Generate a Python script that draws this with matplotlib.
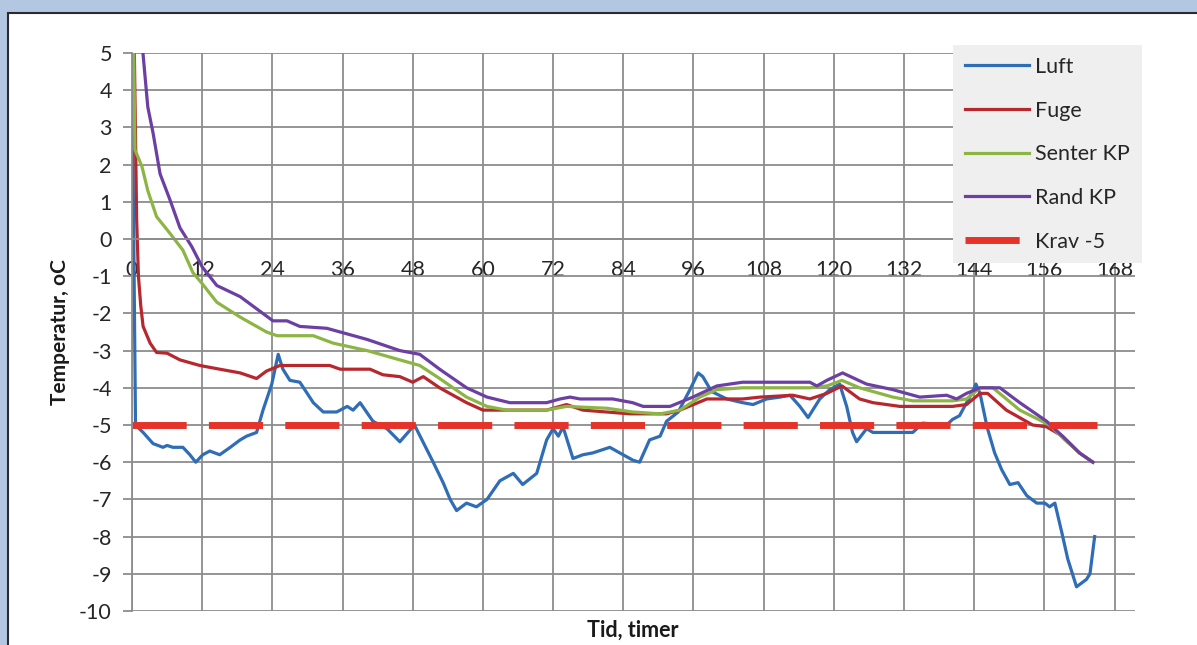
import matplotlib
matplotlib.use("Agg")
import matplotlib.pyplot as plt
from matplotlib.patches import Rectangle

plt.rcParams["font.family"] = ["Lato", "DejaVu Sans"]
plt.rcParams["axes.unicode_minus"] = False

# Luft
luft_t = [0, 0.6, 1.9, 3.6, 5.3, 6.0, 7.0, 8.7, 9.9, 10.9, 12.1, 13.3, 15.0, 16.8, 18.5,
          19.6, 21.3, 22.4, 23.9, 25.0, 25.8, 27.0, 28.7, 31.0, 32.7, 35.0, 36.8, 37.8,
          39.0, 41.2, 43.6, 45.8, 48.3, 51.5, 53.2, 54.4, 55.5, 57.2, 58.9, 60.7, 62.9,
          65.2, 66.8, 69.2, 70.9, 72.0, 72.9, 73.7, 75.4, 77.1, 78.8, 81.7, 83.4, 85.7,
          86.8, 88.5, 90.3, 91.4, 93.4, 95.4, 96.8, 97.6, 99.1, 101.7, 104.4, 106.2,
          108.5, 110.8, 112.5, 114.2, 115.6, 117.6, 119.3, 121.0, 122.2, 123.2, 123.9,
          125.6, 126.7, 130.1, 133.5, 135.2, 139.3, 140.3, 141.5, 142.7, 143.6, 144.3,
          145.0, 146.2, 147.5, 148.7, 150.1, 151.5, 153.0, 154.7, 156.1, 156.9, 157.8,
          159.0, 160.0, 161.5, 163.2, 163.8, 164.6]
luft_v = [5.0, -5.0, -5.2, -5.5, -5.6, -5.55, -5.6, -5.6, -5.8, -6.0, -5.8, -5.7, -5.8,
          -5.6, -5.4, -5.3, -5.2, -4.6, -3.9, -3.1, -3.5, -3.8, -3.85, -4.4, -4.65, -4.65,
          -4.5, -4.6, -4.4, -4.9, -5.1, -5.45, -5.0, -6.0, -6.55, -7.0, -7.3, -7.1, -7.2,
          -7.0, -6.5, -6.3, -6.6, -6.3, -5.4, -5.1, -5.3, -5.05, -5.9, -5.8, -5.75, -5.6,
          -5.75, -5.95, -6.0, -5.4, -5.3, -4.9, -4.65, -4.05, -3.6, -3.7, -4.1, -4.3, -4.4,
          -4.45, -4.3, -4.25, -4.2, -4.5, -4.8, -4.3, -4.05, -3.9, -4.5, -5.2, -5.45, -5.1,
          -5.2, -5.2, -5.2, -4.95, -5.0, -4.85, -4.75, -4.4, -4.15, -3.9, -4.15, -5.05,
          -5.75, -6.2, -6.6, -6.55, -6.9, -7.1, -7.1, -7.2, -7.1, -7.9, -8.6, -9.35, -9.15,
          -9.0, -8.0]

# Fuge
fuge_t = [0.4, 0.8, 1.1, 1.5, 1.9, 3.1, 4.2, 6.0, 8.2, 11.6, 15.0, 18.5, 21.3, 23.0, 25.3,
          33.8, 35.6, 40.7, 42.9, 45.8, 48.0, 49.8, 52.6, 57.2, 60.0, 70.9, 74.3, 77.1,
          85.1, 91.4, 93.7, 98.3, 104.4, 107.4, 113.0, 115.9, 118.8, 121.4, 124.4, 126.7,
          131.3, 140.3, 142.7, 145.0, 146.3, 149.5, 154.0, 156.4, 159.1, 162.0, 164.3]
fuge_v = [5.0, 0.5, -1.0, -1.8, -2.35, -2.8, -3.05, -3.07, -3.25, -3.4, -3.5, -3.6, -3.75,
          -3.55, -3.4, -3.4, -3.5, -3.5, -3.65, -3.7, -3.85, -3.7, -4.0, -4.4, -4.6, -4.6,
          -4.45, -4.6, -4.7, -4.7, -4.6, -4.3, -4.3, -4.25, -4.2, -4.3, -4.15, -3.95, -4.3,
          -4.4, -4.5, -4.5, -4.45, -4.15, -4.15, -4.6, -5.0, -5.05, -5.3, -5.75, -6.0]

# Senter KP
senter_t = [0.3, 0.5, 1.7, 2.7, 4.2, 6.5, 8.7, 10.4, 12.0, 14.5, 18.5, 23.0, 24.8, 31.0,
            34.4, 40.2, 45.8, 49.2, 52.6, 57.2, 60.7, 64.1, 70.9, 74.3, 81.2, 85.6, 90.3,
            93.7, 97.1, 100.0, 104.4, 115.9, 118.8, 121.4, 124.4, 130.1, 133.5, 140.3,
            142.7, 145.0, 147.2, 151.8, 156.9, 159.5, 162.0, 164.3]
senter_v = [5.0, 2.4, 1.95, 1.3, 0.6, 0.15, -0.3, -0.9, -1.2, -1.7, -2.1, -2.5, -2.6, -2.6,
            -2.8, -3.0, -3.25, -3.4, -3.75, -4.25, -4.5, -4.6, -4.6, -4.5, -4.55, -4.65,
            -4.7, -4.6, -4.25, -4.05, -4.0, -4.0, -3.95, -3.8, -4.0, -4.25, -4.35, -4.35,
            -4.3, -4.0, -4.0, -4.6, -5.0, -5.4, -5.75, -6.0]

# Rand KP
rand_t = [1.7, 2.7, 3.6, 4.8, 6.5, 8.2, 10.2, 12.0, 14.5, 18.5, 24.1, 26.5, 28.7, 33.3,
          40.2, 45.8, 49.2, 52.6, 57.2, 60.7, 64.6, 70.9, 73.2, 74.9, 76.6, 82.2, 85.6,
          87.4, 92.0, 95.9, 100.0, 104.4, 115.9, 117.1, 118.8, 121.5, 125.6, 130.1, 134.7,
          139.3, 141.0, 142.7, 145.0, 148.4, 151.8, 156.4, 159.1, 162.0, 164.3]
rand_v = [5.3, 3.55, 2.85, 1.75, 1.05, 0.3, -0.2, -0.75, -1.25, -1.55, -2.2, -2.2, -2.35,
          -2.4, -2.7, -3.0, -3.1, -3.5, -4.0, -4.25, -4.4, -4.4, -4.3, -4.25, -4.3, -4.3,
          -4.4, -4.5, -4.5, -4.25, -3.95, -3.85, -3.85, -3.95, -3.8, -3.6, -3.9, -4.05,
          -4.25, -4.2, -4.3, -4.15, -4.0, -4.0, -4.4, -4.9, -5.3, -5.75, -6.0]

# Krav -5
krav_t = [0, 165]
krav_v = [-5, -5]

x_ticks = list(range(0, 169, 12))
y_ticks = list(range(-10, 6))

W, H = 1197, 645
FS = 15.5
fig = plt.figure(figsize=(W / 100, H / 100), dpi=100, facecolor="#b3c7e3")
fig.patches.append(Rectangle((8 / W, -0.05), 1.1, 1 - 13 / H + 0.05,
                             transform=fig.transFigure, facecolor="white",
                             edgecolor="#2b2b2b", linewidth=1.5, zorder=-1))

ax = fig.add_axes([132 / W, 1 - 611 / H, (1135 - 132) / W, (611 - 53) / H])
ax.set_facecolor("white")

ax.plot(luft_t, luft_v, color="#2f6db6", lw=2.3, label="Luft")
ax.plot(fuge_t, fuge_v, color="#b7282e", lw=2.3, label="Fuge")
ax.plot(senter_t, senter_v, color="#8db543", lw=2.3, label="Senter KP")
ax.plot(rand_t, rand_v, color="#6c3fa3", lw=2.3, label="Rand KP")
ax.plot(krav_t, krav_v, color="#e5332a", lw=5, dashes=(7.8, 3.2), label="Krav -5")

ax.set_xlim(0, 171.5)
ax.set_ylim(-10, 5)
ax.set_xticks(x_ticks)
ax.set_yticks(y_ticks)
ax.grid(True, color="#8c8c8c", lw=1.3)
ax.set_axisbelow(True)

for s in ["top", "right"]:
    ax.spines[s].set_visible(False)
ax.spines["left"].set_color("#8c8c8c")
ax.spines["left"].set_linewidth(1.3)
ax.spines["bottom"].set_position(("data", 0))
ax.spines["bottom"].set_color("#8c8c8c")
ax.spines["bottom"].set_linewidth(1.3)

ax.tick_params(axis="y", length=6.5, width=1.3, color="#8c8c8c", pad=8,
               labelsize=FS, labelcolor="#262626")
ax.tick_params(axis="x", length=0, pad=15, labelsize=FS, labelcolor="#262626")

ax.set_ylabel("Temperatur, oC", fontsize=15, fontweight="bold", color="#1a1a1a")
ax.yaxis.set_label_coords(-0.062, 0.5)
ax.set_xlabel("Tid, timer", fontsize=15.5, fontweight="bold", color="#1a1a1a")
ax.xaxis.set_label_coords(0.499, -0.015)

leg = ax.legend(loc="upper left", bbox_to_anchor=(953 / W, 1 - 45 / H),
                bbox_transform=fig.transFigure, fontsize=FS, frameon=True,
                facecolor="#efefef", edgecolor="none", fancybox=False, framealpha=1,
                handlelength=3.0, handletextpad=0.28, labelspacing=1.1,
                borderpad=0.55, borderaxespad=0)
for t in leg.get_texts():
    t.set_color("#262626")

fig.savefig("out.png", dpi=100, facecolor=fig.get_facecolor())
